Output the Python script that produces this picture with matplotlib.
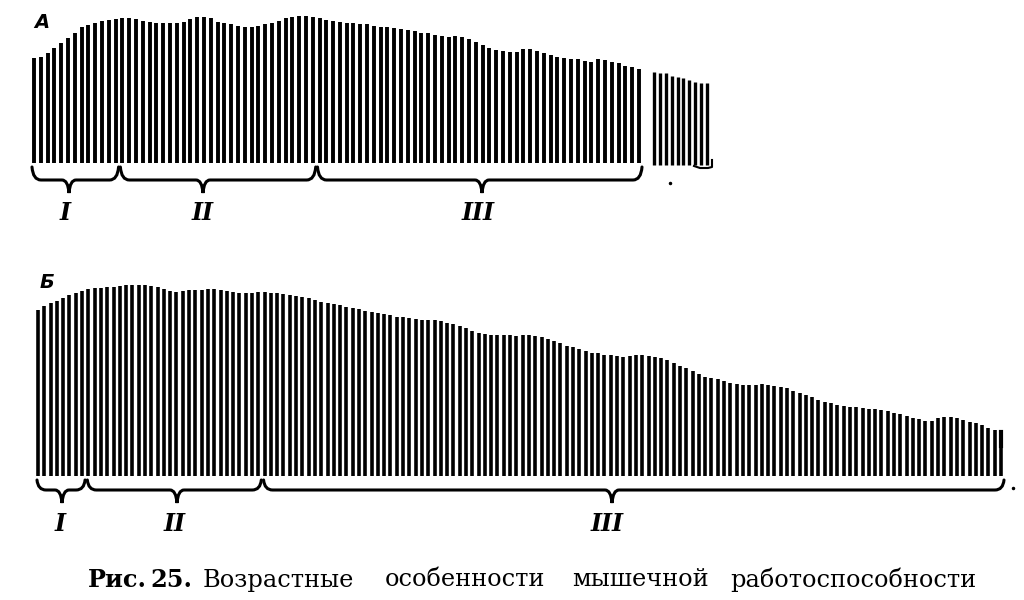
import numpy as np
import matplotlib.pyplot as plt
from matplotlib.path import Path
from matplotlib.patches import PathPatch

# stroke amplitudes (px)
amp_a = [105, 106, 110, 115, 120, 125, 130, 136, 138, 140,
         142, 143, 144, 145, 145, 144, 142, 141, 140, 140,
         140, 140, 141, 144, 146, 146, 145, 141, 140, 139,
         137, 136, 136, 137, 139, 140, 142, 145, 146, 147,
         147, 146, 145, 143, 142, 141, 140, 140, 139, 139,
         137, 136, 136, 135, 134, 133, 132, 130, 130, 128,
         127, 126, 127, 126, 124, 121, 118, 115, 113, 112,
         111, 111, 114, 114, 112, 110, 108, 106, 105, 104,
         104, 102, 101, 104, 103, 101, 100, 97, 96, 94]
amp_a_tail = [93, 92, 92, 89, 88, 87, 85, 83, 82, 82]

amp_b = [166, 170, 173, 175, 178, 181, 183, 185, 187, 188,
         188, 189, 189, 190, 191, 191, 191, 191, 190, 189,
         187, 185, 184, 185, 186, 186, 186, 187, 187, 186,
         185, 184, 183, 183, 183, 184, 184, 183, 183, 182,
         181, 180, 179, 178, 176, 174, 173, 172, 171, 169,
         168, 167, 165, 164, 163, 162,
         161, 159, 159, 158, 157, 156, 156, 156, 155, 153,
         152, 150, 148, 145, 143, 142, 141, 141, 141, 141,
         140, 141, 141, 140, 139, 137, 135, 133, 130, 129,
         127, 125, 123, 123, 121, 121, 120,
         119, 120, 121, 121, 120, 119, 118, 116, 113, 110,
         108, 105, 102, 99, 98, 97, 95, 93, 92, 91,
         91, 91, 92, 91, 90, 89, 88, 85, 83, 81,
         79, 76, 74, 73, 71, 70, 69, 69, 68, 67,
         67, 66, 65, 63, 62, 60, 58, 57, 55, 55,
         58, 59, 59, 58, 56, 54, 53, 51, 48, 46, 44]

# number of strokes in each phase I, II, III
phases_a = [13, 29, 48]
phases_b = [8, 28, 118]
phase_names = ['I', 'II', 'III']

caption_words = ['Рис.', '25.', 'Возрастные', 'особенности', 'мышечной', 'работоспособности']


def brace(ax, x0, x1, xt, y, hook, depth, lw=2.2):
    verts = [(x0, y - hook), (x0 + 1, y), (x0 + 9, y),
             (xt - 7, y), (xt - 1, y), (xt, y + depth),
             (xt + 1, y), (xt + 7, y),
             (x1 - 9, y), (x1 - 1, y), (x1, y - hook)]
    codes = [Path.MOVETO, Path.CURVE3, Path.CURVE3,
             Path.LINETO, Path.CURVE3, Path.CURVE3,
             Path.CURVE3, Path.CURVE3,
             Path.LINETO, Path.CURVE3, Path.CURVE3]
    ax.add_patch(PathPatch(Path(verts, codes), fill=False, lw=lw,
                           edgecolor='black', capstyle='round'))


fig = plt.figure(figsize=(10.24, 6), dpi=100)
ax = fig.add_axes([0, 0, 1, 1])
ax.set_xlim(0, 1024)
ax.set_ylim(600, 0)
ax.axis('off')

# --- A ---
base_a = 163
xa = np.linspace(34, 639, len(amp_a))
ax.vlines(xa, base_a - np.array(amp_a), base_a, color='black', lw=2.8)
base_a2 = 165
xa2 = np.linspace(654, 707, len(amp_a_tail))
ax.vlines(xa2, base_a2 - np.array(amp_a_tail), base_a2, color='black', lw=2.4)
ax.plot([694, 700, 708, 712, 712], [166, 168, 168, 167, 160], color='black', lw=1.5)
ax.plot([670], [183], 'k.', ms=3)
ax.text(42, 23, 'A', fontsize=14, fontweight='bold', style='italic',
        ha='center', va='center')

tips_a = [69, 203, 482]
lab_a = [65, 203, 478]
start = 0
for n, t, lx, name in zip(phases_a, tips_a, lab_a, phase_names):
    x0 = xa[start] - 2
    x1 = xa[start + n - 1] + 3
    brace(ax, x0, x1, t, 180, 13, 13)
    ax.text(lx, 213, name, fontsize=17, family='DejaVu Serif', style='italic',
            fontweight='bold', ha='center', va='center')
    start += n

# --- Б ---
base_b = 476
xb = np.linspace(38, 1001, len(amp_b))
ax.vlines(xb, base_b - np.array(amp_b), base_b, color='black', lw=2.6)
ax.plot([1001, 1001], [432, 446], color='black', lw=3)
ax.plot([1013], [488], 'k.', ms=3)
ax.text(47, 282, 'Б', fontsize=14, fontweight='bold', style='italic',
        ha='center', va='center')

tips_b = [62, 177, 612]
lab_b = [60, 175, 607]
start = 0
for n, t, lx, name in zip(phases_b, tips_b, lab_b, phase_names):
    x0 = xb[start] - 1
    x1 = xb[start + n - 1] + 3
    brace(ax, x0, x1, t, 490, 10, 13)
    ax.text(lx, 524, name, fontsize=17, family='DejaVu Serif', style='italic',
            fontweight='bold', ha='center', va='center')
    start += n

# --- caption ---
word_x = [88, 150, 203, 385, 572, 730]
for i, (w, x) in enumerate(zip(caption_words, word_x)):
    ax.text(x, 580, w, fontsize=17.3, family='DejaVu Serif',
            fontweight='bold' if i < 2 else 'normal', ha='left', va='center')

fig.savefig('out.png', dpi=100)
